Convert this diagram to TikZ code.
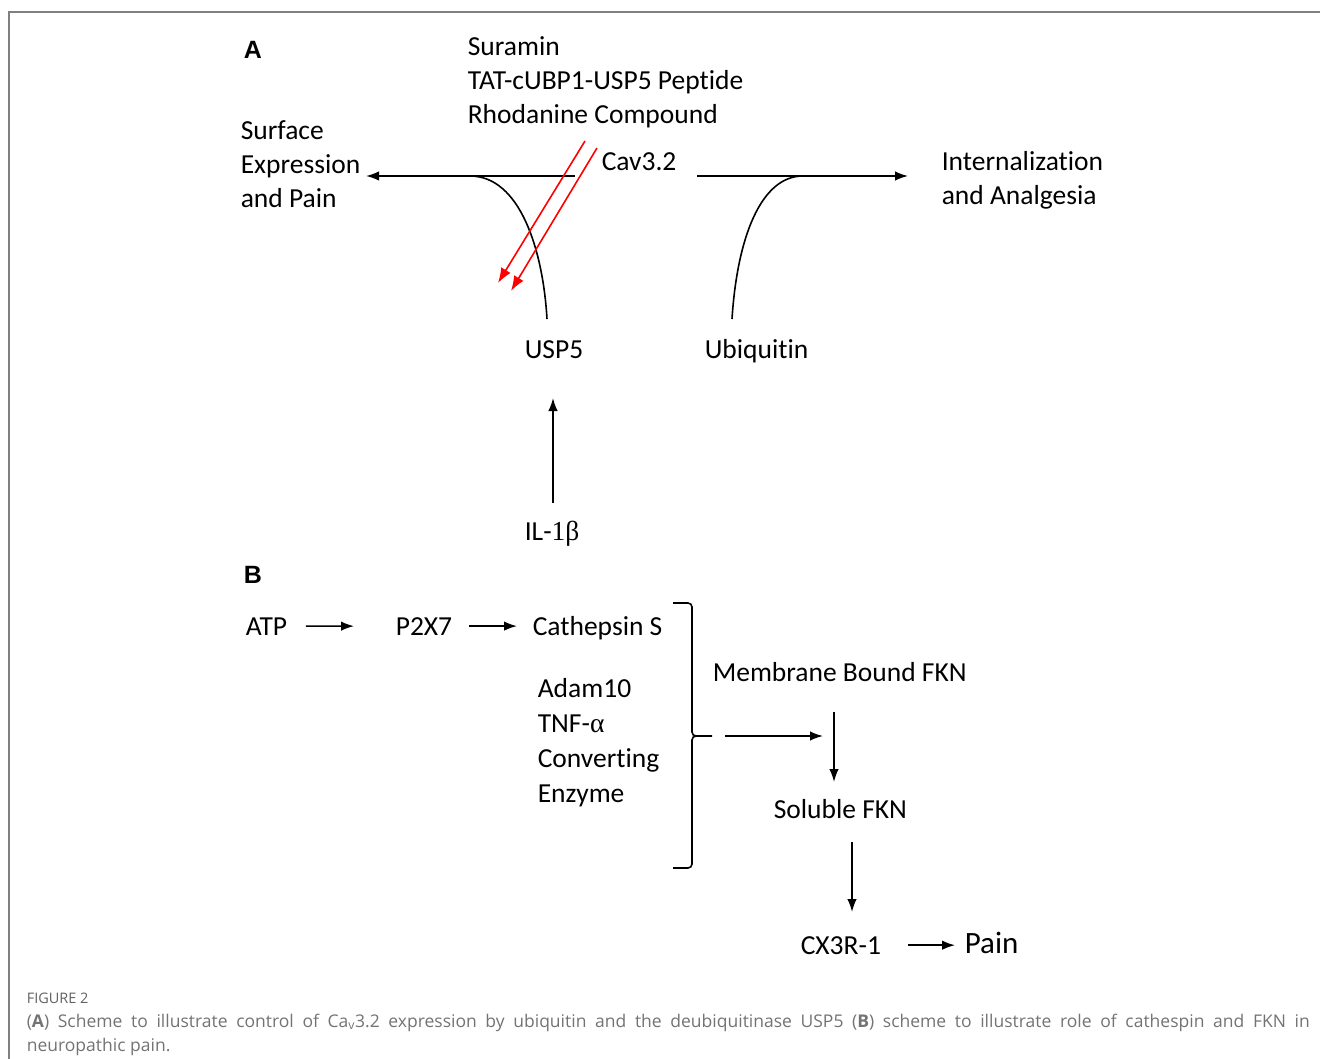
\documentclass[tikz,border=0pt]{standalone}
\usepackage{fontspec}
\setmainfont{Carlito}[Ligatures=NoCommon]
\newfontfamily\greekfont{Liberation Serif}
\newfontfamily\panelfont{Liberation Sans}
\newfontfamily\captionfont{Open Sans}
\usetikzlibrary{
  arrows.meta,%
  positioning,%
  calc
}
\tikzset{>={Latex[length=13pt,width=9.5pt]}}
\tikzset{txt/.style={font=\fontsize{27.5}{34}\selectfont, inner sep=0pt, anchor=base west, align=left}}
\tikzset{panel/.style={font=\panelfont\bfseries\fontsize{25}{28}\selectfont, inner sep=0pt, anchor=base west}}
\tikzset{inhib/.style={->, red, line width=1.6pt, >={Latex[length=15pt,width=11pt]}}}
\definecolor{framegray}{rgb}{0.5, 0.5, 0.5}
\definecolor{capgray}{rgb}{0.45, 0.45, 0.45}

\begin{document}
\begin{tikzpicture}[x=1pt, y=-1pt, line width=1.6pt]
                \useasboundingbox (0, 0) rectangle (1320, 1059);%
                \draw [framegray] (9, 1059) -- (9, 12) -- (1320, 12);%
                % panel A (multi-line nodes sit on their last baseline)
                \node [panel] (pA) at (243, 59) {A};%
                \node [txt] (drugs) at (467, 124) {Suramin\\TAT-cUBP1-USP5 Peptide\\Rhodanine Compound};%
                \node [txt] (surf) at (240, 208) {Surface\\Expression\\and Pain};%
                \node [txt] (cav) at (601, 171) {Cav3.2};%
                \node [txt] (intern) at (941, 205) {Internalization\\and Analgesia};%
                \node [txt] (usp5) at (524, 359) {USP5};%
                \node [txt] (ubq) at (704, 359) {Ubiquitin};%
                \node [txt] (il1b) at (524, 540) {IL-{\greekfont 1β}};%
                \coordinate (jL) at (575, 176);%
                \coordinate (jR) at (697, 176);%
                \coordinate (mergeL) at (470, 176);%
                \coordinate (mergeR) at (803, 176);%
                \coordinate (uspEnd) at (547, 319);%
                \coordinate (ubqEnd) at (732, 319);%
                \draw [->, shorten >=5pt] (jL) -- (surf.east |- jL);%
                \draw [->, shorten >=33pt] (jR) -- (intern.west |- jR);%
                \draw (uspEnd) .. controls (543, 250) and (520, 176) .. (mergeL);%
                \draw (ubqEnd) .. controls (737, 240) and (760, 176) .. (mergeR);%
                \coordinate (r1s) at (585, 141);%
                \coordinate (r1e) at (498, 283);%
                \coordinate (r2s) at (597, 148);%
                \coordinate (r2e) at (511, 291);%
                \draw [inhib] (r1s) -- (r1e);%
                \draw [inhib] (r2s) -- (r2e);%
                \draw [->, shorten <=17pt, shorten >=38pt] (il1b.north -| 553, 0) -- (usp5.south -| 553, 0);%
                % panel B
                \node [panel] (pB) at (243, 583) {B};%
                \node [txt] (atp) at (245, 635) {ATP};%
                \node [txt] (p2x7) at (395, 635) {P2X7};%
                \node [txt] (cathS) at (532, 635) {Cathepsin S};%
                \node [txt, font=\fontsize{27.5}{35}\selectfont] (adam) at (537, 802) {Adam10\\TNF-{\greekfont α}\\Converting\\Enzyme};%
                \node [txt] (memb) at (712, 681) {Membrane Bound FKN};%
                \node [txt] (sol) at (773, 818) {Soluble FKN};%
                \node [txt] (cx3r) at (800, 954) {CX3R-1};%
                \node [txt, font=\fontsize{31}{36}\selectfont] (pain) at (964, 953) {Pain};%
                \draw [->, shorten <=18pt, shorten >=41pt] (atp.east) -- (p2x7.west);%
                \draw [->, shorten <=16pt, shorten >=15pt] (p2x7.east) -- (cathS.west |- p2x7.east);%
                \coordinate (brTop) at (673, 603);%
                \coordinate (brBot) at (673, 868);%
                \coordinate (brTip) at (712, 736);%
                \draw [rounded corners=4pt] (brTop) -- (692, 603) -- (692, 736) -- (brTip);%
                \draw [rounded corners=4pt] (brBot) -- (692, 868) -- (692, 736) -- (700, 736);%
                \coordinate (mbIn) at (823, 736);%
                \draw [->, shorten <=13pt] (brTip) -- (mbIn);%
                \coordinate (mbOut) at (834, 712);%
                \coordinate (solIn) at (834, 782);%
                \draw [->] (mbOut) -- (solIn);%
                \coordinate (solOut) at (852, 842);%
                \coordinate (cxIn) at (852, 912);%
                \draw [->] (solOut) -- (cxIn);%
                \draw [->, shorten <=26pt, shorten >=9pt] (cx3r.east) -- (pain.west |- cx3r.east);%
                % caption
                \node [anchor=base west, inner sep=0pt, text=capgray!85!black, font=\captionfont\fontsize{14.5}{16}\selectfont] (fig) at (26, 1003) {FIGURE 2};%
                \node [anchor=base west, inner sep=0pt, text=capgray, text width=1283pt, align=justify,
                  font=\captionfont\fontsize{17.5}{24}\selectfont] (cap) at (26, 1027)
                  {(\textbf{A}) Scheme to illustrate control of Ca\textsubscript{v}3.2 expression by ubiquitin and the deubiquitinase USP5 (\textbf{B}) scheme to illustrate role of cathespin and FKN in\linebreak neuropathic pain.};%
              \end{tikzpicture}
\end{document}
